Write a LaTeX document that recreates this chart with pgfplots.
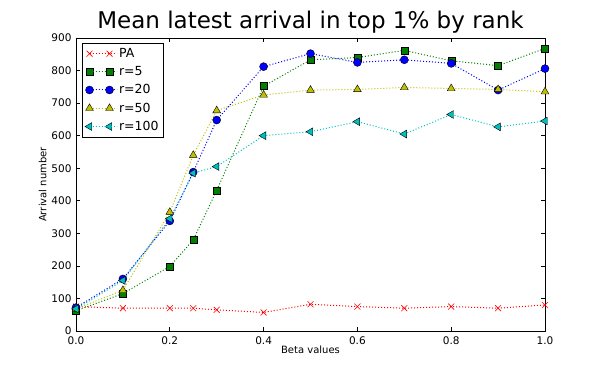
\documentclass[border=0pt]{standalone}
\usepackage{pgfplots}
\pgfplotsset{compat=1.18}
\usepackage{fontspec}
\setmainfont{DejaVu Sans}
\definecolor{mplgreen}{rgb}{0,0.5,0}
\definecolor{mplyellow}{rgb}{0.75,0.75,0}
\definecolor{mplcyan}{rgb}{0,0.75,0.75}
\begin{document}
\begin{tikzpicture}[x=1pt,y=1pt]
\useasboundingbox (0,0) rectangle (606,379);
\begin{axis}[
    at={(76pt,48pt)}, anchor=south west,
    scale only axis,
    width=469pt, height=293pt,
    xmin=0, xmax=1, ymin=0, ymax=900,
    xtick={0,0.2,...,1.0},
    ytick={0,100,...,900},
    xticklabel style={/pgf/number format/fixed,/pgf/number format/fixed zerofill,/pgf/number format/precision=1, yshift=-2pt},
    yticklabel style={xshift=-1pt},
    /pgf/number format/assume math mode=true,
    tick label style={font=\fontsize{10.5}{12}\selectfont},
    tick align=inside,
    tick style={black, line width=0.6pt},
    major tick length=4pt,
    axis line style={line width=0.8pt},
    xlabel={Beta values}, ylabel={Arrival number},
    label style={font=\fontsize{10}{12}\selectfont},
    xlabel style={yshift=5pt},
    ylabel style={yshift=-2pt},
    title={Mean latest arrival in top 1\% by rank},
    title style={font=\fontsize{23}{26}\selectfont, yshift=-5pt},
    legend pos=north west,
    legend style={font=\fontsize{12.5}{14}\selectfont, draw=black, line width=0.8pt, row sep=3.5pt, inner sep=3pt, at={(0.012,0.983)}},
    legend cell align=left,
    legend image code/.code={\draw[#1] plot coordinates {(0pt,0pt) (20pt,0pt)};\path (0pt,0pt) -- (27pt,0pt);},
    every axis plot/.append style={dotted, line width=1pt},
    clip=false,
]
\addplot[red, mark=x, mark size=4.2pt, mark options={solid, line width=0.6pt}] coordinates {
(0,75) (0.1,70) (0.2,70) (0.25,70) (0.3,65) (0.4,57) (0.5,82) (0.6,75) (0.7,70) (0.8,75) (0.9,70) (1.0,80)};
\addplot[mplgreen, mark=square*, mark size=3.5pt, mark options={solid, fill=mplgreen, draw=black, line width=0.4pt}] coordinates {
(0,62) (0.1,115) (0.2,198) (0.25,280) (0.3,432) (0.4,752) (0.5,833) (0.6,840) (0.7,862) (0.8,830) (0.9,815) (1.0,868)};
\addplot[blue, mark=*, mark size=4pt, mark options={solid, fill=blue, draw=black, line width=0.4pt}] coordinates {
(0,72) (0.1,160) (0.2,338) (0.25,488) (0.3,648) (0.4,812) (0.5,852) (0.6,825) (0.7,833) (0.8,822) (0.9,740) (1.0,806)};
\addplot[mplyellow, mark=triangle*, mark size=4.5pt, mark options={solid, fill=mplyellow, draw=black, line width=0.4pt}] coordinates {
(0,68) (0.1,125) (0.2,365) (0.25,540) (0.3,677) (0.4,725) (0.5,740) (0.6,742) (0.7,748) (0.8,745) (0.9,742) (1.0,735)};
\addplot[mplcyan, mark=triangle*, mark size=4.5pt, mark options={solid, rotate=90, fill=mplcyan, draw=black, line width=0.4pt}] coordinates {
(0,68) (0.1,155) (0.2,345) (0.25,485) (0.3,505) (0.4,600) (0.5,612) (0.6,643) (0.7,605) (0.8,665) (0.9,627) (1.0,645)};
\legend{PA, r=5, r=20, r=50, r=100}
\end{axis}
\end{tikzpicture}
\end{document}
